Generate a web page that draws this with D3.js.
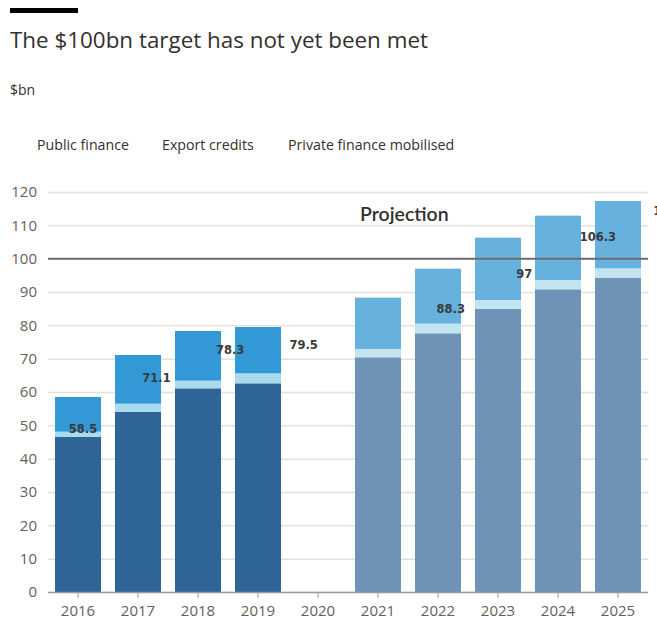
<!DOCTYPE html>
<html>
<head>
<meta charset="utf-8">
<script src="https://cdn.jsdelivr.net/npm/d3@7"></script>
<style>
  body { margin: 0; background: #fff; }
  text { font-family: "Open Sans", Lato, sans-serif; }
</style>
</head>
<body>
<div id="chart"></div>
<script>
const years = ["2016", "2017", "2018", "2019", "2020", "2021", "2022", "2023", "2024", "2025"];
const publicFinance = [46.6, 54.0, 61.1, 62.6, 0, 70.4, 77.6, 84.9, 90.8, 94.3];
const exportCredits = [1.5, 2.5, 2.3, 3.0, 0, 2.5, 2.9, 2.7, 2.8, 2.8];
const privateFinance = [10.4, 14.6, 14.9, 13.9, 0, 15.4, 16.5, 18.7, 19.3, 20.2];
// 2025's total falls outside the picture in the original, so it has no label here
const totalLabels = ["58.5", "71.1", "78.3", "79.5", "", "88.3", "97", "106.3", "112.9", ""];
const projectionYears = ["2021", "2022", "2023", "2024", "2025"];
const yTicks = [0, 10, 20, 30, 40, 50, 60, 70, 80, 90, 100, 110, 120];
const seriesNames = ["Public finance", "Export credits", "Private finance mobilised"];

const W = 657, H = 627;
const svg = d3.select("#chart").append("svg").attr("width", W).attr("height", H);

// header
svg.append("rect").attr("x", 10).attr("y", 8).attr("width", 68).attr("height", 5).attr("fill", "#000");
svg.append("text").attr("x", 10).attr("y", 48).attr("font-size", 22.4).attr("fill", "#33302e")
  .text("The $100bn target has not yet been met");
svg.append("text").attr("x", 10).attr("y", 95).attr("font-size", 14).attr("fill", "#33302e").text("$bn");

const legendX = [37, 162, 288];
svg.selectAll(".legend").data(seriesNames).enter().append("text")
  .attr("class", "legend")
  .attr("x", (d, i) => legendX[i]).attr("y", 150)
  .attr("font-size", 14.2).attr("fill", "#33302e")
  .text(d => d);

const table = years.map((y, i) => ({
  year: y, pub: publicFinance[i], exp: exportCredits[i], priv: privateFinance[i]
}));

const x = d3.scaleBand().domain(years).range([48, 648]).paddingInner(0.233).paddingOuter(0.117);
const y = d3.scaleLinear().domain([0, 120]).range([592, 192]);

// the total labels sit on a slightly stretched grid in the original
const labelX = d3.scalePoint().domain(years).range([83, 745]);
const labelY = d3.scaleLinear().domain([0, 120]).range([664, 182]);

// gridlines + y labels
const yAxis = svg.append("g").attr("transform", "translate(48,0)")
  .call(d3.axisLeft(y).tickValues(yTicks).tickSize(-600).tickPadding(11));
yAxis.select(".domain").remove();
yAxis.selectAll("line").attr("stroke", "#e6e0da").attr("stroke-width", 1.5);
yAxis.selectAll("text").attr("font-size", 15).attr("fill", "#66605c")
  .style("font-family", "'Open Sans', sans-serif");

svg.append("text").attr("x", 360).attr("y", 221).attr("font-size", 19.5)
  .attr("font-weight", 600).attr("fill", "#33302e")
  .style("font-family", "Lato, sans-serif").text("Projection");

const colours = {
  hist: { pub: "#2f6497", exp: "#a9dbef", priv: "#3399d6" },
  proj: { pub: "#6f93b7", exp: "#c2e3f0", priv: "#66b1dd" }
};

const stacked = d3.stack().keys(["pub", "exp", "priv"])(table);

svg.append("g").selectAll("g").data(stacked).enter().append("g")
  .selectAll("rect")
  .data(layer => layer.map(d => Object.assign({ key: layer.key }, d)))
  .enter().append("rect")
  .filter(d => d[1] > d[0])
  .attr("x", d => x(d.data.year))
  .attr("width", x.bandwidth())
  .attr("y", d => y(d[1]))
  .attr("height", d => y(d[0]) - y(d[1]))
  .attr("fill", d => (projectionYears.includes(d.data.year) ? colours.proj : colours.hist)[d.key]);

// 100bn target line
svg.append("line")
  .attr("x1", 48).attr("x2", 648)
  .attr("y1", y(100)).attr("y2", y(100))
  .attr("stroke", "#6e6e6e").attr("stroke-width", 2);

// x axis
const xAxis = svg.append("g").attr("transform", "translate(0," + y(0) + ")")
  .call(d3.axisBottom(x).tickSize(6).tickPadding(7));
xAxis.select(".domain").attr("stroke", "#a09a94").attr("stroke-width", 1.5)
  .attr("d", "M48,0.5H648");
xAxis.selectAll("line").attr("stroke", "#a09a94");
xAxis.selectAll("text").attr("font-size", 15).attr("fill", "#66605c")
  .style("font-family", "'Open Sans', sans-serif");

// total labels
svg.selectAll(".total").data(table.filter((d, i) => totalLabels[i] !== "")).enter().append("text")
  .attr("class", "total")
  .attr("x", d => labelX(d.year))
  .attr("y", d => labelY(d.pub + d.exp + d.priv))
  .attr("dy", "0.35em")
  .attr("text-anchor", "middle")
  .attr("font-size", 11.5).attr("font-weight", "bold").attr("fill", "#3a3a3a")
  .style("font-family", "'DejaVu Sans', sans-serif")
  .text(d => totalLabels[years.indexOf(d.year)]);
</script>
</body>
</html>
